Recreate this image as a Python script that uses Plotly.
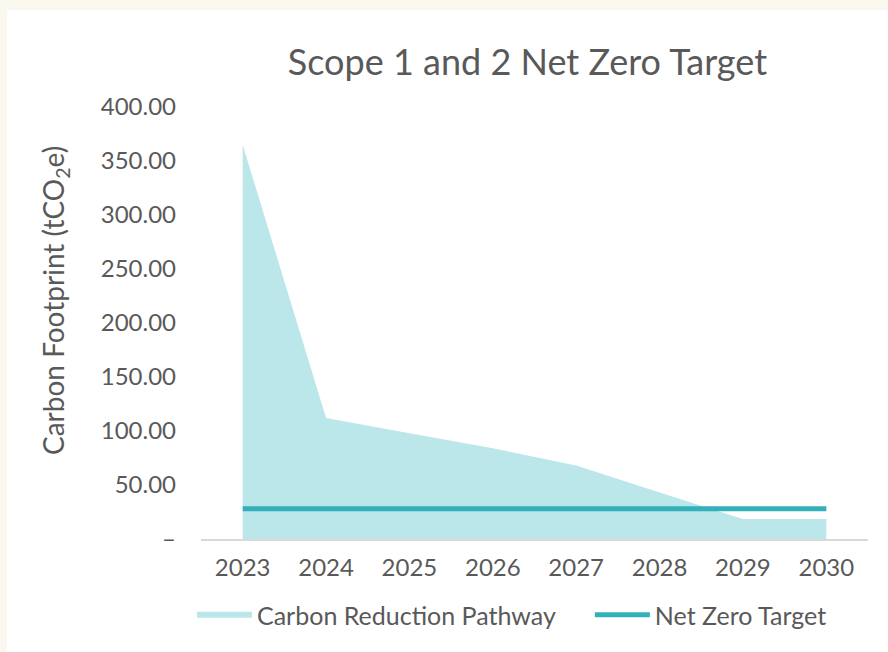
import plotly.graph_objects as go

years = ["2023", "2024", "2025", "2026", "2027", "2028", "2029", "2030"]
pathway = [365, 112, 98, 84, 68, 43, 18.5, 18.5]
net_zero = [28, 28, 28, 28, 28, 28, 28, 28]

y_ticks = [0, 50, 100, 150, 200, 250, 300, 350, 400]
y_labels = ["–", "50.00", "100.00", "150.00", "200.00", "250.00", "300.00", "350.00", "400.00"]

grey = "#595959"
font = "Lato, 'Open Sans', sans-serif"

fig = go.Figure()
fig.add_trace(go.Scatter(
    x=years, y=pathway,
    mode="none",
    fill="tozeroy",
    fillcolor="#BBE6EA",
    name="Carbon Reduction Pathway",
    legend="legend",
))
fig.add_trace(go.Scatter(
    x=years, y=net_zero,
    mode="lines",
    line=dict(color="#33B0B9", width=5),
    name="Net Zero Target",
    legend="legend2",
))

# white card on cream page
fig.add_shape(type="rect", xref="paper", yref="paper",
              x0=-0.291, x1=1.1, y0=-0.6, y1=1.2245,
              fillcolor="white", line=dict(width=0), layer="below")

# y axis title, placed a bit above the plot centre like the original
fig.add_annotation(text="Carbon Footprint (tCO<sub>2</sub>e)", textangle=-90,
                   xref="paper", yref="paper", x=-0.219, y=0.553,
                   xanchor="center", yanchor="middle", showarrow=False,
                   font=dict(size=28, color=grey))

legend_style = dict(orientation="h", xanchor="left", y=-0.176, yanchor="middle",
                    font=dict(size=25, color=grey), itemwidth=55,
                    bgcolor="rgba(0,0,0,0)")

fig.update_layout(
    width=888, height=652,
    paper_bgcolor="#FBF8F0",
    plot_bgcolor="rgba(0,0,0,0)",
    margin=dict(l=201, r=20, t=107, b=113),
    font=dict(family=font, color=grey, size=23),
    title=dict(text="Scope 1 and 2 Net Zero Target", x=0.594, xanchor="center",
               y=0.905, yanchor="middle", font=dict(size=36, color=grey)),
    showlegend=True,
    legend=dict(x=-0.0135, **legend_style),
    legend2=dict(x=0.583, **legend_style),
)
fig.update_xaxes(
    type="category", range=[-0.5, 7.5],
    showgrid=False, showline=True, linecolor="#D9D9D9", linewidth=2,
    ticks="", ticklabelstandoff=6, tickfont=dict(size=24, color=grey),
)
fig.update_yaxes(
    range=[0, 400], tickvals=y_ticks, ticktext=y_labels,
    showgrid=False, zeroline=False, showline=False, ticks="",
    ticklabelstandoff=24, tickfont=dict(size=24, color=grey),
)

fig.write_html("out.html", config={"displayModeBar": False},
               post_script="document.body.style.margin='0';document.body.style.overflow='hidden';")
